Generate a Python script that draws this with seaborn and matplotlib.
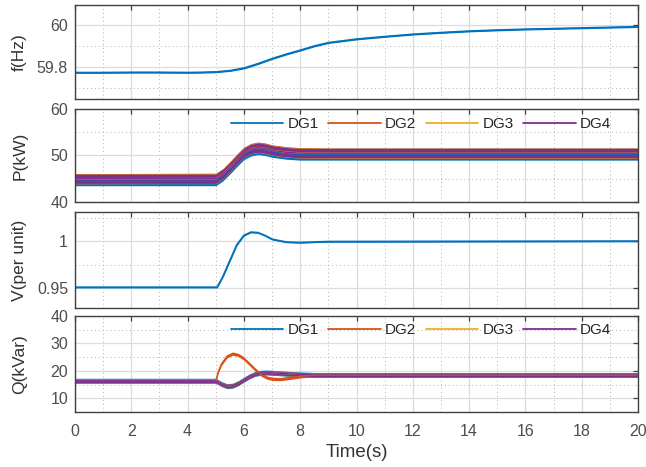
import numpy as np
import pandas as pd
import matplotlib
matplotlib.use("Agg")
import matplotlib.pyplot as plt
import seaborn as sns
from matplotlib.ticker import MultipleLocator, FixedLocator, FuncFormatter
from matplotlib.lines import Line2D

sns.set_theme(style="white")
plt.rcParams["font.family"] = ["Liberation Sans", "DejaVu Sans"]

# ---------------- data ----------------
dg_names = ["DG1", "DG2", "DG3", "DG4"]
dg_colors = ["#0072BD", "#D95319", "#EDB120", "#7E2F8E"]

# frequency
t_f = [0, 1, 2, 3, 4, 4.5, 5.0, 5.5, 6.0, 6.5, 7.0, 7.5, 8.0, 8.5, 9.0, 10, 11, 12, 13, 14, 15, 16, 17, 18, 19, 20]
f_hz = [59.776, 59.776, 59.777, 59.777, 59.776, 59.777, 59.779, 59.785, 59.797, 59.818, 59.842, 59.863, 59.882,
        59.902, 59.918, 59.935, 59.947, 59.958, 59.966, 59.973, 59.978, 59.982, 59.985, 59.988, 59.991, 59.994]
f_noise = 0.004

# active power
t_p = [0, 5.0, 5.25, 5.5, 5.75, 6.0, 6.25, 6.5, 6.75, 7.0, 7.5, 8.0, 9.0, 20]
p_dg1 = [44.8, 44.8, 45.8, 47.3, 48.9, 50.4, 51.2, 51.5, 51.3, 50.9, 50.5, 50.3, 50.3, 50.3]
p_dg2 = [45.0, 45.1, 46.1, 47.6, 49.2, 50.7, 51.5, 51.8, 51.6, 51.2, 50.8, 50.6, 50.5, 50.5]
p_dg3 = [45.0, 45.0, 46.0, 47.5, 49.1, 50.6, 51.4, 51.7, 51.5, 51.1, 50.7, 50.5, 50.5, 50.5]
p_dg4 = [45.0, 45.0, 46.0, 47.5, 49.1, 50.6, 51.4, 51.7, 51.5, 51.1, 50.7, 50.5, 50.5, 50.5]
p_noise = [1.3, 1.1, 1.05, 1.0]

# voltage
t_v = [0, 5.05, 5.25, 5.5, 5.75, 6.0, 6.25, 6.5, 6.75, 7.0, 7.5, 8.0, 9.0, 20]
v_pu = [0.951, 0.951, 0.962, 0.979, 0.996, 1.006, 1.0095, 1.009, 1.006, 1.002, 0.999, 0.9985, 0.9995, 1.0]
v_noise = 0.0005

# reactive power
t_q = [0, 5.0, 5.1, 5.2, 5.4, 5.6, 5.8, 6.0, 6.2, 6.4, 6.6, 6.8, 7.0, 7.3, 7.6, 8.0, 8.5, 9.0, 20]
q_dg1 = [16.4, 16.4, 15.8, 15.2, 14.4, 14.6, 15.5, 16.8, 18.0, 18.9, 19.3, 19.4, 19.3, 19.1, 18.9, 18.7, 18.5, 18.5, 18.5]
q_dg2 = [16.5, 16.5, 20.0, 22.5, 25.3, 26.3, 25.8, 24.5, 22.5, 20.5, 18.7, 17.6, 17.1, 17.0, 17.4, 18.0, 18.4, 18.5, 18.5]
q_dg3 = [16.5, 16.5, 15.8, 15.2, 14.4, 14.6, 15.5, 16.8, 18.0, 18.9, 19.3, 19.4, 19.3, 19.1, 18.9, 18.7, 18.5, 18.5, 18.5]
q_dg4 = [16.4, 16.4, 15.8, 15.2, 14.4, 14.6, 15.5, 16.8, 18.0, 18.9, 19.3, 19.4, 19.3, 19.1, 18.9, 18.7, 18.5, 18.5, 18.5]
q_noise = [0.9, 0.6, 0.7, 0.7]

x_ticks = [0, 2, 4, 6, 8, 10, 12, 14, 16, 18, 20]

# ---------------- figure ----------------
fig = plt.figure(figsize=(6.46, 4.67), dpi=100)
L, W = 75 / 646, 563 / 646
H = 467
def pos(top, bot):
    return [L, 1 - bot / H, W, (bot - top) / H]

ax_f = fig.add_axes(pos(5, 99))
ax_p = fig.add_axes(pos(109, 202))
ax_v = fig.add_axes(pos(212, 308))
ax_q = fig.add_axes(pos(316, 412))

edge = "#404040"
tick_col = "#4d4d4d"

def style(ax, ylim, major, minor, ylabel):
    ax.set_xlim(0, 20)
    ax.set_ylim(*ylim)
    ax.xaxis.set_major_locator(FixedLocator(x_ticks))
    ax.xaxis.set_minor_locator(MultipleLocator(1))
    ax.yaxis.set_major_locator(FixedLocator(major))
    ax.yaxis.set_minor_locator(FixedLocator(minor))
    ax.yaxis.set_major_formatter(FuncFormatter(lambda v, p: f"{v:g}"))
    ax.set_axisbelow(True)
    ax.grid(which="major", color="#dcdcdc", lw=0.9, ls="-")
    ax.grid(which="minor", color="#b0b0b0", lw=0.7, ls=(0, (1, 3)))
    ax.tick_params(which="major", direction="in", length=3.5, width=0.9, top=True, right=True,
                   color=edge, labelcolor=tick_col, labelsize=11.5)
    ax.tick_params(axis="y", which="major", pad=5)
    ax.tick_params(axis="x", which="major", pad=9)
    ax.tick_params(which="minor", length=0, top=True, right=True)
    for s in ax.spines.values():
        s.set_color(edge)
        s.set_linewidth(1.0)
    ax.set_ylabel(ylabel, fontsize=12.5, color="#333333")
    ax.yaxis.set_label_coords(-0.085, 0.5)
    ax.set_xlabel("")

def single(ax, t, vals, nz, lw):
    ax.fill_between(t, [v - nz for v in vals], [v + nz for v in vals], color=dg_colors[0], alpha=1.0, lw=0)
    sns.lineplot(x=t, y=vals, color=dg_colors[0], lw=lw, ax=ax)

def multi(ax, t, series, noises):
    for name, vals, col, nz in zip(dg_names, series, dg_colors, noises):
        df = pd.DataFrame({"t": t, "v": vals})
        ax.fill_between(t, [v - nz for v in vals], [v + nz for v in vals], color=col, alpha=1.0, lw=0)
        sns.lineplot(data=df, x="t", y="v", color=col, estimator=None, lw=1.0, ax=ax, legend=False)
    return [Line2D([], [], color=c, lw=1.3) for c in dg_colors]

single(ax_f, t_f, f_hz, f_noise, 1.2)
style(ax_f, (59.65, 60.097), [59.8, 60], [59.7, 59.9], "f(Hz)")

hp = multi(ax_p, t_p, [p_dg1, p_dg2, p_dg3, p_dg4], p_noise)
style(ax_p, (40, 60), [40, 50, 60], [45, 55], "P(kW)")

single(ax_v, t_v, v_pu, v_noise, 1.4)
style(ax_v, (0.929, 1.031), [0.95, 1.0], [0.975, 1.025], "V(per unit)")

hq = multi(ax_q, t_q, [q_dg1, q_dg2, q_dg3, q_dg4], q_noise)
style(ax_q, (5, 40), [10, 20, 30, 40], [15, 25, 35], "Q(kVar)")

for ax in (ax_f, ax_p, ax_v):
    ax.tick_params(labelbottom=False)
ax_q.set_xlabel("Time(s)", fontsize=13.5, color="#333333", labelpad=3)

for ax, h, yc in ((ax_p, hp, 0.84), (ax_q, hq, 0.855)):
    ax.legend(h, dg_names, ncol=4, loc="center", bbox_to_anchor=(0.6146, yc), frameon=False,
              fontsize=11, handlelength=3.45, handletextpad=0.27, columnspacing=0.62,
              borderaxespad=0, labelcolor="#262626")

fig.savefig("out.png", dpi=100)
